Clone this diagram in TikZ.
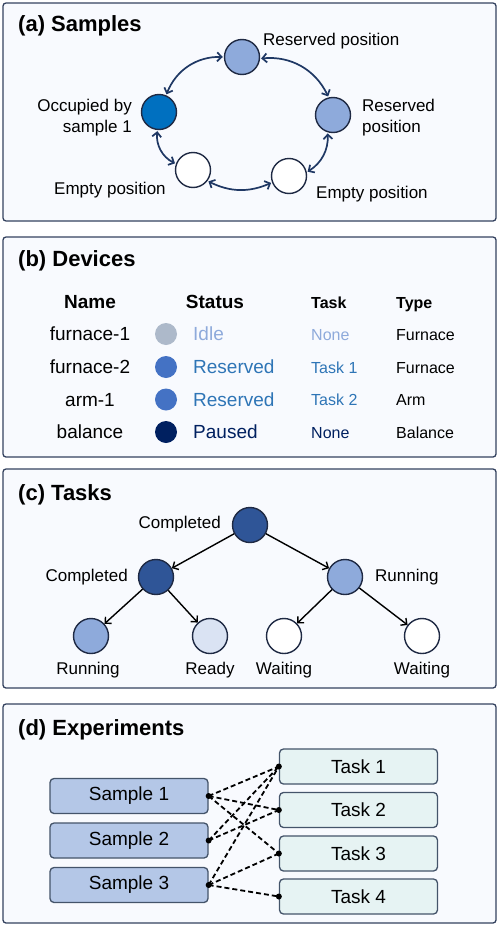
\documentclass[tikz,border=0pt]{standalone}
\usepackage{fontspec}
\setmainfont{Liberation Sans}
\usetikzlibrary{arrows.meta}
\usetikzlibrary{positioning}

\definecolor{panelline}{HTML}{34425F}
\definecolor{panelbg}{HTML}{F8FAFE}
\definecolor{ringline}{HTML}{1F2A44}
\definecolor{navy}{HTML}{1F3864}
\definecolor{occblue}{HTML}{0070C0}
\definecolor{resblue}{HTML}{8EAADB}
\definecolor{idlegray}{HTML}{ADB9CA}
\definecolor{midblue}{HTML}{4472C4}
\definecolor{textblue}{HTML}{2E75B6}
\definecolor{pausenavy}{HTML}{002060}
\definecolor{doneblue}{HTML}{2F5597}
\definecolor{readyblue}{HTML}{DAE3F3}
\definecolor{samplefill}{HTML}{B4C7E7}
\definecolor{taskfill}{HTML}{E6F3F3}
\definecolor{boxline}{HTML}{44546A}

\tikzset{
  panel/.style={draw=panelline,fill=panelbg,line width=1.3pt,rounded corners=3pt},
  paneltitle/.style={anchor=base west,inner sep=0pt,font=\fontsize{22}{24}\selectfont\bfseries},
  lbl/.style={inner sep=0pt,font=\fontsize{17}{21}\selectfont},
  big/.style={inner sep=0pt,font=\fontsize{19}{22}\selectfont},
  small/.style={inner sep=0pt,font=\fontsize{16}{19}\selectfont},
  slot/.style={circle,draw=ringline,line width=1.4pt,minimum size=35pt,inner sep=0pt},
  dot/.style={circle,minimum size=22pt,inner sep=0pt},
  link/.style={draw=navy,line width=1.7pt,shorten <=1pt,shorten >=1pt,
    {Straight Barb[length=4.5pt,width=9pt]}-{Straight Barb[length=4.5pt,width=9pt]}},
  edge/.style={draw=black,line width=1.4pt,-{Straight Barb[length=4.5pt,width=9pt]}},
  itembox/.style={draw=boxline,line width=1.3pt,rounded corners=4pt,minimum width=158pt,
    minimum height=35pt,inner sep=0pt,font=\fontsize{19}{22}\selectfont},
  dashline/.style={draw=black,line width=1.8pt,dash pattern=on 5pt off 3pt}
}

\begin{document}
\begin{tikzpicture}[x=1pt,y=-1pt]
\useasboundingbox (0,0) rectangle (498,926);

% panels
\draw [panel] (3,3) rectangle (496,221);
\draw [panel] (3,237) rectangle (496,457);
\draw [panel] (3,469) rectangle (496,688);
\draw [panel] (3,704) rectangle (496,923);

% (a) samples
\node [paneltitle] (titlea) at (18,31.5) {(a) Samples};
\node [slot,fill=resblue] (top) at (242,57) {};
\node [slot,fill=resblue] (right) at (333,115) {};
\node [slot,fill=occblue] (left) at (159,112) {};
\node [slot,fill=white] (botl) at (193,170) {};
\node [slot,fill=white] (botr) at (289,176) {};
\node [lbl,anchor=base west] (ltop) at (263,45) {Reserved position};
\node [lbl,anchor=west,align=left] (lright) at (362,118) {Reserved\\position};
\node [lbl,anchor=east,align=right] (lleft) at (132,118) {Occupied by\\sample 1};
\node [lbl,anchor=base west] (lbotl) at (54,194) {Empty position};
\node [lbl,anchor=base west] (lbotr) at (316,198) {Empty position};
\draw [link] (top.180) to[bend right=35] (left.67);
\draw [link] (top.355) to[bend left=35] (right.104);
\draw [link] (left.265) to[bend right=35] (botl.160);
\draw [link] (botl.323) to[bend right=25] (botr.201);
\draw [link] (botr.12) to[bend right=30] (right.253);

% (b) devices
\node [paneltitle] (titleb) at (18,266.5) {(b) Devices};
\node [big,anchor=base,font=\fontsize{19}{22}\selectfont\bfseries] (hname) at (90,308) {Name};
\node [big,anchor=base,font=\fontsize{19}{22}\selectfont\bfseries] (hstatus) at (215,308) {Status};
\node [small,anchor=base west,font=\fontsize{16}{19}\selectfont\bfseries] (htask) at (311,308) {Task};
\node [small,anchor=base west,font=\fontsize{16}{19}\selectfont\bfseries] (htype) at (396,308) {Type};

\node [big,anchor=base] (n1) at (90,340.5) {furnace-1};
\node [dot,fill=idlegray] (d1) at (166,334) {};
\node [big,anchor=base west,text=resblue] (s1) at (193,340.5) {Idle};
\node [small,anchor=base west,text=resblue] (k1) at (311,340) {None};
\node [small,anchor=base west] (y1) at (396,340) {Furnace};

\node [big,anchor=base] (n2) at (90,373.3) {furnace-2};
\node [dot,fill=midblue] (d2) at (166,367) {};
\node [big,anchor=base west,text=textblue] (s2) at (193,373.3) {Reserved};
\node [small,anchor=base west,text=textblue] (k2) at (311,373) {Task 1};
\node [small,anchor=base west] (y2) at (396,373) {Furnace};

\node [big,anchor=base] (n3) at (90,406) {arm-1};
\node [dot,fill=midblue] (d3) at (166,399.5) {};
\node [big,anchor=base west,text=textblue] (s3) at (193,406) {Reserved};
\node [small,anchor=base west,text=textblue] (k3) at (311,405.5) {Task 2};
\node [small,anchor=base west] (y3) at (396,405.5) {Arm};

\node [big,anchor=base] (n4) at (90,438.3) {balance};
\node [dot,fill=pausenavy] (d4) at (166,432) {};
\node [big,anchor=base west,text=pausenavy] (s4) at (193,438.3) {Paused};
\node [small,anchor=base west,text=pausenavy] (k4) at (311,438) {None};
\node [small,anchor=base west] (y4) at (396,438) {Balance};

% (c) tasks
\node [paneltitle] (titlec) at (18,500) {(c) Tasks};
\node [slot,fill=doneblue] (root) at (250,525) {};
\node [slot,fill=doneblue] (mid1) at (156,577) {};
\node [slot,fill=resblue] (mid2) at (345,577) {};
\node [slot,fill=resblue] (leaf1) at (91,636) {};
\node [slot,fill=readyblue] (leaf2) at (210,636) {};
\node [slot,fill=white] (leaf3) at (284,636) {};
\node [slot,fill=white] (leaf4) at (422,636) {};
\node [lbl,anchor=base east] (lroot) at (221,528) {Completed};
\node [lbl,anchor=base east] (lmid1) at (128,581) {Completed};
\node [lbl,anchor=base west] (lmid2) at (375,581) {Running};
\node [lbl,anchor=base] (lleaf1) at (88,674) {Running};
\node [lbl,anchor=base] (lleaf2) at (210,674) {Ready};
\node [lbl,anchor=base] (lleaf3) at (284,674) {Waiting};
\node [lbl,anchor=base] (lleaf4) at (422,674) {Waiting};
\draw [edge] (root) -- (mid1);
\draw [edge] (root) -- (mid2);
\draw [edge] (mid1) -- (leaf1);
\draw [edge] (mid1) -- (leaf2);
\draw [edge] (mid2) -- (leaf3);
\draw [edge] (mid2) -- (leaf4);

% (d) experiments
\node [paneltitle] (titled) at (18,735) {(d) Experiments};
\node [itembox,fill=samplefill] (samp1) at (129,796) {Sample 1};
\node [itembox,fill=samplefill] (samp2) at (129,840.5) {Sample 2};
\node [itembox,fill=samplefill] (samp3) at (129,885) {Sample 3};
\node [itembox,fill=taskfill] (task1) at (358.5,766.5) {Task 1};
\node [itembox,fill=taskfill] (task2) at (358.5,810) {Task 2};
\node [itembox,fill=taskfill] (task3) at (358.5,853.5) {Task 3};
\node [itembox,fill=taskfill] (task4) at (358.5,896.5) {Task 4};
\draw [dashline] (samp1.east) -- (task1.west);
\draw [dashline] (samp1.east) -- (task2.west);
\draw [dashline] (samp1.east) -- (task3.west);
\draw [dashline] (samp2.east) -- (task1.west);
\draw [dashline] (samp2.east) -- (task2.west);
\draw [dashline] (samp3.east) -- (task1.west);
\draw [dashline] (samp3.east) -- (task3.west);
\draw [dashline] (samp3.east) -- (task4.west);
\foreach \n in {samp1,samp2,samp3}
  \fill (\n.east) circle (3pt);
\foreach \n in {task1,task2,task3,task4}
  \fill (\n.west) circle (3pt);
\end{tikzpicture}
\end{document}
